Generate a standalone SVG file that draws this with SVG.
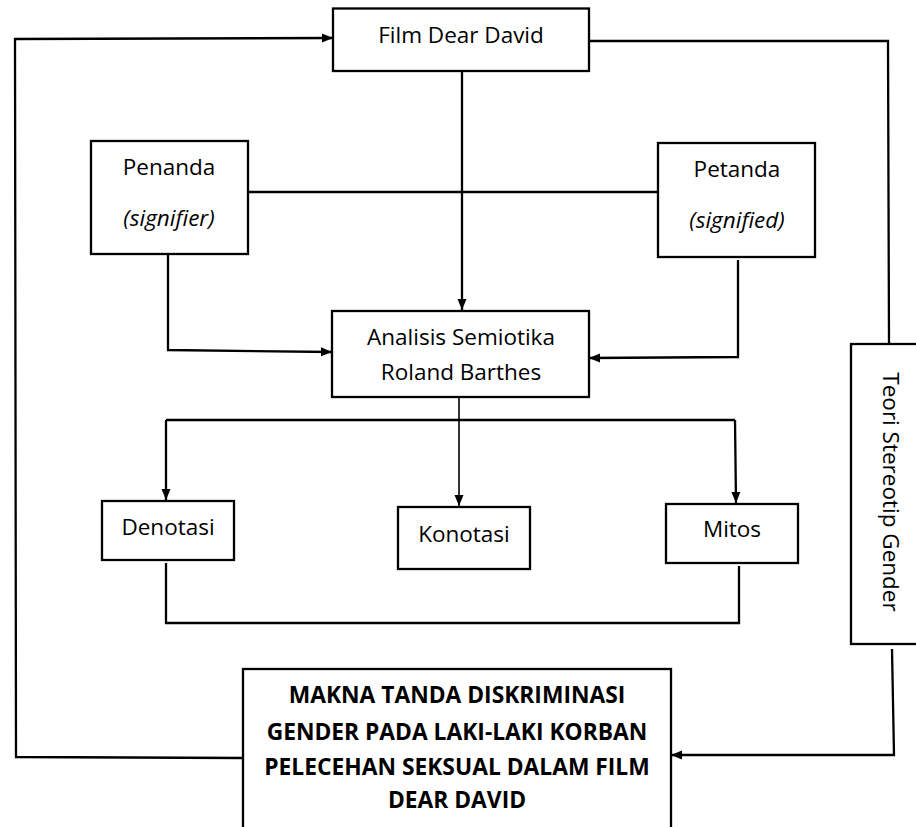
<svg xmlns="http://www.w3.org/2000/svg" width="916" height="827" viewBox="0 0 916 827">
<style>
.box{fill:#fff;stroke:#000;stroke-width:2.3}
.ln{fill:none;stroke:#000;stroke-width:2.3}
.thin{fill:none;stroke:#000;stroke-width:1.6}
text{font-family:"Open Sans","Noto Sans","DejaVu Sans",sans-serif;font-size:22.5px;fill:#000;text-anchor:middle}
.it{font-style:italic}
.b{font-weight:bold;font-size:22.8px}
</style>
<defs>
<marker id="ah" markerUnits="userSpaceOnUse" markerWidth="12" markerHeight="10" refX="11" refY="5" orient="auto">
<path d="M0,0.5 L11,5 L0,9.5 z" fill="#000"/>
</marker>
</defs>
<rect width="916" height="827" fill="#fff"/>
<g id="connectors">
<path class="ln" d="M243,758 L16,757 L15,39 L333,38" marker-end="url(#ah)"/>
<path class="ln" d="M589,41 L888,41 L889,344"/>
<path class="ln" d="M462,71 L462,310" marker-end="url(#ah)"/>
<path class="ln" d="M248,192 L658,192"/>
<path class="ln" d="M168,254 L168,350 L332,352" marker-end="url(#ah)"/>
<path class="ln" d="M738,260 L738,357 L589,358" marker-end="url(#ah)"/>
<path class="thin" d="M459,397 L459,506" marker-end="url(#ah)"/>
<path class="ln" d="M166,420 L735,420"/>
<path class="ln" d="M166,420 L166,500" marker-end="url(#ah)"/>
<path class="ln" d="M735,420 L736,503" marker-end="url(#ah)"/>
<path class="ln" d="M166,563 L166,623 L739,623 L739,566"/>
<path class="ln" d="M892,649 L894,755 L671,755" marker-end="url(#ah)"/>
</g>
<g id="film">
<rect class="box" x="333" y="8.5" width="256" height="62.5"/>
<text x="461" y="43">Film Dear David</text>
</g>
<g id="penanda">
<rect class="box" x="91" y="141" width="157" height="113"/>
<text x="169" y="175">Penanda</text>
<text class="it" x="169" y="226">(signifier)</text>
</g>
<g id="petanda">
<rect class="box" x="658" y="143" width="157" height="114"/>
<text x="737" y="177">Petanda</text>
<text class="it" x="737" y="228">(signified)</text>
</g>
<g id="analisis">
<rect class="box" x="332" y="311" width="257" height="86"/>
<text x="461" y="345">Analisis Semiotika</text>
<text x="461" y="380">Roland Barthes</text>
</g>
<g id="denotasi">
<rect class="box" x="102" y="501" width="132" height="59"/>
<text x="168" y="535">Denotasi</text>
</g>
<g id="konotasi">
<rect class="box" x="398" y="507" width="132" height="62"/>
<text x="464" y="542">Konotasi</text>
</g>
<g id="mitos">
<rect class="box" x="666" y="504" width="132" height="59"/>
<text x="732" y="537">Mitos</text>
</g>
<g id="teori">
<rect class="box" x="851" y="344" width="80" height="300"/>
<text transform="translate(883,492) rotate(90)" x="0" y="0">Teori Stereotip Gender</text>
</g>
<g id="makna">
<rect class="box" x="243" y="669" width="428" height="180"/>
<text class="b" x="457" y="703">MAKNA TANDA DISKRIMINASI</text>
<text class="b" x="457" y="740">GENDER PADA LAKI-LAKI KORBAN</text>
<text class="b" x="457" y="775">PELECEHAN SEKSUAL DALAM FILM</text>
<text class="b" x="457" y="808">DEAR DAVID</text>
</g>
</svg>
